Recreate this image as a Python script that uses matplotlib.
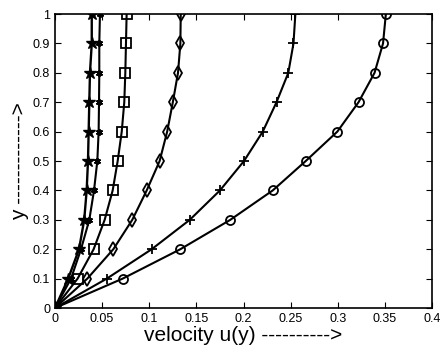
import matplotlib
matplotlib.use("Agg")
import matplotlib.pyplot as plt

plt.rcParams["font.family"] = ["Liberation Sans", "DejaVu Sans"]

y = [0, 0.1, 0.2, 0.3, 0.4, 0.5, 0.6, 0.7, 0.8, 0.9, 1.0]

u_star = [0, 0.014, 0.0255, 0.031, 0.0336, 0.035, 0.0357, 0.0364, 0.0371, 0.039, 0.039]
u_aster = [0, 0.017, 0.0276, 0.0364, 0.0414, 0.0449, 0.0463, 0.0467, 0.047, 0.047, 0.0477]
u_square = [0, 0.024, 0.041, 0.0527, 0.0612, 0.0665, 0.0708, 0.0735, 0.0746, 0.0753, 0.076]
u_diamond = [0, 0.0343, 0.0619, 0.082, 0.0973, 0.111, 0.119, 0.125, 0.1305, 0.133, 0.1334]
u_plus = [0, 0.055, 0.1026, 0.143, 0.175, 0.2005, 0.2204, 0.235, 0.2475, 0.253, 0.255]
u_circle = [0, 0.0718, 0.133, 0.186, 0.231, 0.266, 0.2995, 0.322, 0.339, 0.348, 0.351]

xticks = [0, 0.05, 0.1, 0.15, 0.2, 0.25, 0.3, 0.35, 0.4]
xticklabels = ["0", "0.05", "0.1", "0.15", "0.2", "0.25", "0.3", "0.35", "0.4"]
yticks = [0, 0.1, 0.2, 0.3, 0.4, 0.5, 0.6, 0.7, 0.8, 0.9, 1.0]
yticklabels = ["0", "0.1", "0.2", "0.3", "0.4", "0.5", "0.6", "0.7", "0.8", "0.9", "1"]

fig = plt.figure(figsize=(4.41, 3.51), dpi=100)
ax = fig.add_axes([0.1247, 0.1225, 0.855, 0.8375])

common = dict(color="black", linewidth=1.5, markerfacecolor="none",
              markeredgecolor="black", markeredgewidth=1.3)
ax.plot(u_circle, y, marker="o", markersize=6.5, **common)
ax.plot(u_plus, y, marker="+", markersize=7, **common)
ax.plot(u_diamond, y, marker="d", markersize=7.5, **common)
ax.plot(u_square, y, marker="s", markersize=6.5, **common)
ax.plot(u_aster, y, marker=(6, 2, 0), markersize=5, **common)
ax.plot(u_star, y, color="black", linewidth=1.7, marker="*", markersize=9,
        markerfacecolor="black", markeredgecolor="black")

ax.set_xlim(0, 0.4)
ax.set_ylim(0, 1)
ax.set_xticks(xticks)
ax.set_xticklabels(xticklabels)
ax.set_yticks(yticks)
ax.set_yticklabels(yticklabels)
ax.tick_params(direction="in", top=True, right=True, labelsize=9, length=4, width=0.8)
for s in ax.spines.values():
    s.set_linewidth(1.2)

ax.set_xlabel("velocity u(y) ---------->", fontsize=15, labelpad=1)
ax.set_ylabel("y ------------->", fontsize=15, labelpad=3)

fig.savefig("out.png", dpi=100)
